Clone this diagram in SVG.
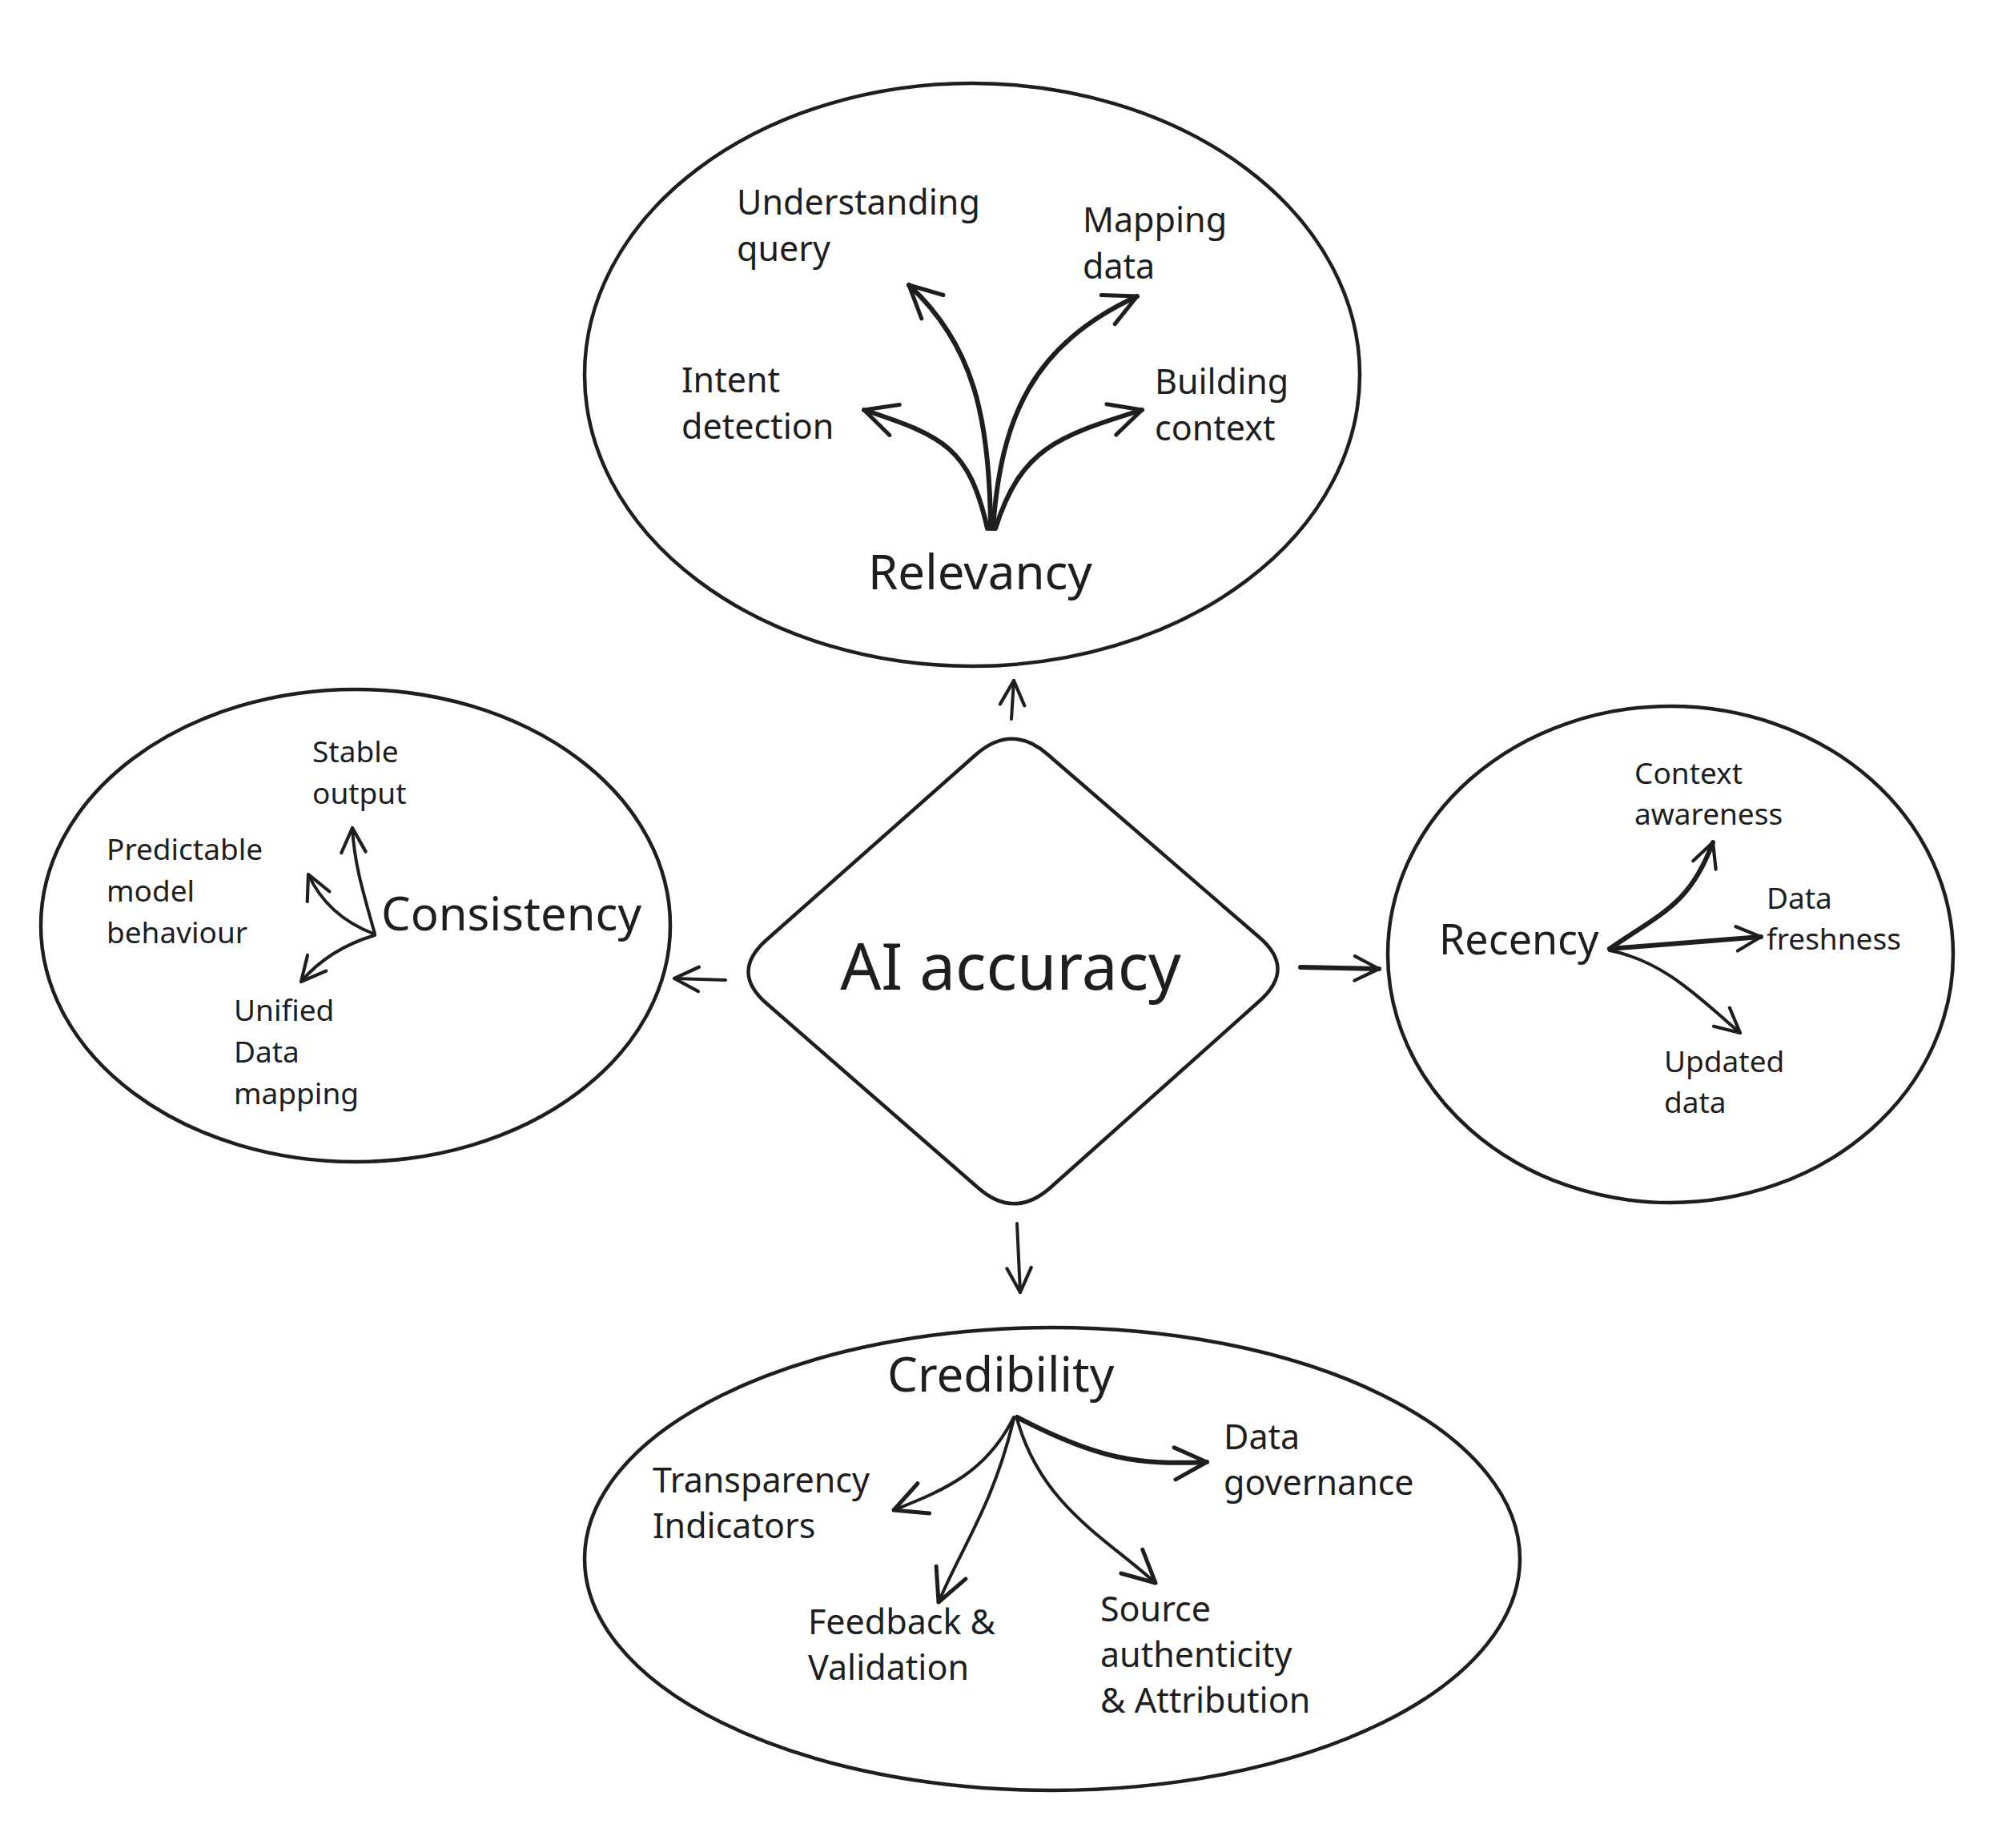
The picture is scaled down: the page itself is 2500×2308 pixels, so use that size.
<svg xmlns="http://www.w3.org/2000/svg" width="2500" height="2308" viewBox="0 0 2500 2308">
<defs>
<style>
.shape{fill:none;stroke:#1e1e1e;stroke-width:4.5;stroke-linecap:round;stroke-linejoin:round}
.conn{fill:none;stroke:#1e1e1e;stroke-width:4;stroke-linecap:round;stroke-linejoin:round}
.thick{stroke-width:6}
.t{font-family:"Noto Sans","Liberation Sans",sans-serif;fill:#1e1e1e}
.sub{font-size:43px}
.sm{font-size:37px}
.title{font-size:60px}
</style>
<marker id="ah" viewBox="0 0 20 20" refX="18" refY="10" markerWidth="38" markerHeight="38" markerUnits="userSpaceOnUse" orient="auto">
<path d="M2,2 L18,10 L2,18" fill="none" stroke="#1e1e1e" stroke-width="2.2" stroke-linecap="round" stroke-linejoin="round"/>
</marker>
<marker id="ahL" viewBox="0 0 20 20" refX="18" refY="10" markerWidth="50" markerHeight="50" markerUnits="userSpaceOnUse" orient="auto">
<path d="M2,2 L18,10 L2,18" fill="none" stroke="#1e1e1e" stroke-width="2" stroke-linecap="round" stroke-linejoin="round"/>
</marker>
</defs>
<rect width="2500" height="2308" fill="#ffffff"/>

<g id="relevancy">
<ellipse class="shape" cx="1214" cy="468" rx="484" ry="364"/>
<text class="t title" x="1084" y="736">Relevancy</text>
<text class="t sub" x="920" y="268">Understanding</text>
<text class="t sub" x="920" y="326">query</text>
<text class="t sub" x="1352" y="290">Mapping</text>
<text class="t sub" x="1352" y="348">data</text>
<text class="t sub" x="851" y="490">Intent</text>
<text class="t sub" x="851" y="548">detection</text>
<text class="t sub" x="1442" y="492">Building</text>
<text class="t sub" x="1442" y="550">context</text>
</g>

<g id="ai-accuracy">
<path class="shape" d="M1218,943 Q1263,903 1308,942 L1573,1171 Q1618,1210 1573,1250 L1312,1483 Q1267,1523 1222,1484 L957,1253 Q912,1214 957,1174 Z"/>
<text class="t" x="1262" y="1236" font-size="80" text-anchor="middle">AI accuracy</text>
</g>

<g id="consistency">
<ellipse class="shape" cx="444" cy="1156" rx="393" ry="295"/>
<text class="t" x="476" y="1162" font-size="58">Consistency</text>
<text class="t sm" x="390" y="952">Stable</text>
<text class="t sm" x="390" y="1004">output</text>
<text class="t sm" x="133" y="1074">Predictable</text>
<text class="t sm" x="133" y="1126">model</text>
<text class="t sm" x="133" y="1178">behaviour</text>
<text class="t sm" x="292" y="1275">Unified</text>
<text class="t sm" x="292" y="1327">Data</text>
<text class="t sm" x="292" y="1379">mapping</text>
</g>

<g id="recency">
<ellipse class="shape" cx="2086" cy="1192" rx="353" ry="310"/>
<text class="t" x="1797" y="1192" font-size="52">Recency</text>
<text class="t sm" x="2041" y="979">Context</text>
<text class="t sm" x="2041" y="1030">awareness</text>
<text class="t sm" x="2206" y="1135">Data</text>
<text class="t sm" x="2206" y="1186">freshness</text>
<text class="t sm" x="2078" y="1339">Updated</text>
<text class="t sm" x="2078" y="1390">data</text>
</g>

<g id="credibility">
<ellipse class="shape" cx="1314" cy="1947" rx="584" ry="289"/>
<text class="t title" x="1108" y="1738">Credibility</text>
<text class="t sub" x="815" y="1864">Transparency</text>
<text class="t sub" x="815" y="1921">Indicators</text>
<text class="t sub" x="1009" y="2041">Feedback &amp;</text>
<text class="t sub" x="1009" y="2098">Validation</text>
<text class="t sub" x="1528" y="1810">Data</text>
<text class="t sub" x="1528" y="1867">governance</text>
<text class="t sub" x="1374" y="2025">Source</text>
<text class="t sub" x="1374" y="2082">authenticity</text>
<text class="t sub" x="1374" y="2139">&amp; Attribution</text>
</g>

<g id="connectors">
<path class="conn" d="M1263,898 L1266,850" marker-end="url(#ah)"/>
<path class="conn" d="M1270,1528 L1274,1614" marker-end="url(#ah)"/>
<path class="conn" d="M906,1224 L842,1222" marker-end="url(#ah)"/>
<path class="conn thick" d="M1624,1208 L1722,1210" marker-end="url(#ah)"/>

<path class="conn thick" d="M1237,660 C1236,520 1215,430 1135,356" marker-end="url(#ahL)"/>
<path class="conn thick" d="M1240,660 C1250,520 1290,430 1420,370" marker-end="url(#ahL)"/>
<path class="conn thick" d="M1233,660 C1210,560 1180,545 1079,512" marker-end="url(#ahL)"/>
<path class="conn thick" d="M1243,660 C1275,560 1320,545 1426,512" marker-end="url(#ahL)"/>

<path class="conn" d="M468,1166 C452,1110 442,1075 440,1034" marker-end="url(#ah)"/>
<path class="conn" d="M466,1166 C425,1150 400,1125 385,1092" marker-end="url(#ah)"/>
<path class="conn" d="M468,1168 C428,1180 398,1200 376,1226" marker-end="url(#ah)"/>

<path class="conn thick" d="M2010,1185 C2075,1140 2110,1130 2139,1052" marker-end="url(#ah)"/>
<path class="conn thick" d="M2010,1185 L2199,1170" marker-end="url(#ah)"/>
<path class="conn" d="M2010,1187 C2075,1200 2115,1240 2173,1290" marker-end="url(#ah)"/>

<path class="conn" d="M1266,1770 C1232,1838 1182,1860 1116,1886" marker-end="url(#ahL)"/>
<path class="conn" d="M1266,1772 C1240,1880 1202,1930 1172,2001" marker-end="url(#ahL)"/>
<path class="conn" d="M1270,1772 C1300,1880 1380,1920 1443,1977" marker-end="url(#ahL)"/>
<path class="conn thick" d="M1270,1770 C1370,1822 1420,1830 1507,1826" marker-end="url(#ahL)"/>
</g>
</svg>
